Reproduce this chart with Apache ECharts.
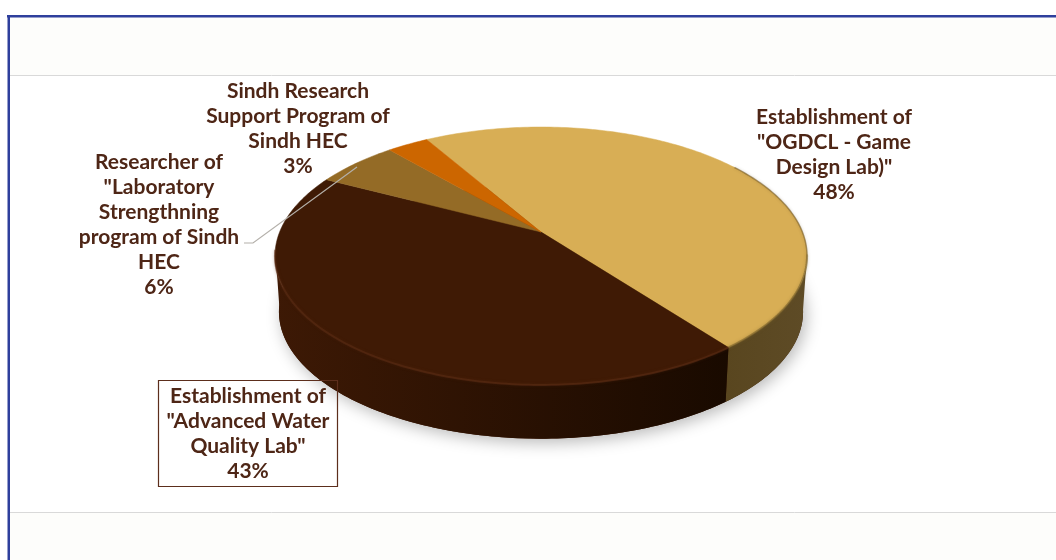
<!DOCTYPE html>
<html><head><meta charset="utf-8">
<style>html,body{margin:0;padding:0;background:#fff}#c{width:1056px;height:560px}</style>
<script src="https://cdn.jsdelivr.net/npm/echarts@6/dist/echarts.min.js"></script>
</head><body><div id="c"></div>
<script>
const categories = [
  'Establishment of\n"OGDCL - Game\nDesign Lab)"',
  'Establishment of\n"Advanced Water\nQuality Lab"',
  'Researcher of\n"Laboratory\nStrengthning\nprogram of Sindh\nHEC',
  'Sindh Research\nSupport Program of\nSindh HEC'
];
const values = [48, 43, 6, 3];
const topColors = ['#d8ae55', '#3f1a05', '#946b26', '#cc6600'];
const sideColors = [['#5e4b26', '#59461f'], ['#190a00', '#3d1905'], ['#5a4018', '#5a4018'], ['#7a3d00', '#7a3d00']];
const rimColors = ['rgba(120,96,44,0.6)', 'rgba(92,46,22,0.55)', 'rgba(0,0,0,0)', 'rgba(0,0,0,0)'];
const labelCentres = [[834, 154.5], [248, 434], [159, 224.5], [298, 129]];
const textColor = '#4e2616';
const fontFamily = 'Lato, "Open Sans", sans-serif';

const CX = 541, CY = 232, RX = 261.4, RY = 124.5, K = 0.186, START = -30.5;
const DEPTH = 56, BASE_SCALE = 0.985;

function proj(deg, bottom) {
  const t = deg * Math.PI / 180;
  const x = Math.sin(t), y = -Math.cos(t), f = 1 / (1 - K * y);
  const s = bottom ? BASE_SCALE : 1;
  return [CX + RX * x * f * s, CY + (bottom ? DEPTH : 0) + RY * y * f * s];
}
function arc(a, b, bottom) {
  const pts = [], n = Math.max(2, Math.ceil(Math.abs(b - a)));
  for (let i = 0; i <= n; i++) pts.push(proj(a + (b - a) * i / n, bottom));
  return pts;
}
const total = values.reduce((a, b) => a + b, 0);

function renderItem(params, api) {
  const i = params.dataIndex, val = api.value(0);
  let a = START;
  for (let j = 0; j < i; j++) a += values[j] / total * 360;
  const b = a + val / total * 360;
  const children = [];
  if (i === 0) {
    children.push({ type: 'polygon', z2: 0, shape: { points: arc(0, 360, true) },
      style: { fill: '#3d1905', shadowBlur: 16, shadowColor: 'rgba(0,0,0,0.28)', shadowOffsetX: 3, shadowOffsetY: 4 } });
  }
  // visible part of the wall: the front half of the rim
  const lo = Math.max(a, 100), hi = Math.min(b, 262);
  if (hi > lo) {
    const front = arc(lo, hi, false), back = arc(hi, lo, true);
    const c = sideColors[i];
    children.push({ type: 'polygon', z2: 1, shape: { points: front.concat(back) },
      style: { fill: new echarts.graphic.LinearGradient(1, 0, 0, 0, [{ offset: 0, color: c[0] }, { offset: 1, color: c[1] }]) } });
    children.push({ type: 'polyline', z2: 3, shape: { points: arc(lo, hi, false) },
      style: { fill: 'none', stroke: rimColors[i], lineWidth: 2, shadowBlur: 3, shadowColor: rimColors[i] } });
  }
  const pts = [[CX, CY]].concat(arc(a, b, false));
  children.push({ type: 'polygon', z2: 2, shape: { points: pts }, style: { fill: topColors[i], stroke: topColors[i], lineWidth: 0.5 } });
  if (i === 0) {
    children.push({ type: 'polyline', z2: 3, shape: { points: arc(55, 100, false) },
      style: { fill: 'none', stroke: 'rgba(96,74,32,0.45)', lineWidth: 1.5, shadowBlur: 3, shadowColor: 'rgba(96,74,32,0.5)' } });
  }
  const pos = labelCentres[i];
  children.push({ type: 'text', z2: 6, style: {
    x: pos[0], y: pos[1], text: categories[i] + '\n' + val + '%', fill: textColor,
    font: 'bold 21px ' + fontFamily, lineHeight: 25, align: 'center', verticalAlign: 'middle' } });
  if (i === 1) {
    children.push({ type: 'rect', z2: 5, shape: { x: 158.5, y: 380.5, width: 179, height: 106 },
      style: { fill: 'none', stroke: '#5c2e1c', lineWidth: 1.2 } });
  }
  if (i === 2) {
    children.push({ type: 'polyline', z2: 4, shape: { points: [[357, 167], [253, 243], [244, 243]] },
      style: { fill: 'none', stroke: '#b4b0aa', lineWidth: 1.2 } });
  }
  return { type: 'group', children };
}

const chart = echarts.init(document.getElementById('c'), null, { renderer: 'canvas' });
chart.setOption({
  animation: false,
  backgroundColor: '#ffffff',
  graphic: [
    { type: 'rect', z: -1, shape: { x: 9, y: 16, width: 1047, height: 59 }, style: { fill: '#fdfdfb' } },
    { type: 'rect', z: -1, shape: { x: 9, y: 513, width: 1047, height: 47 }, style: { fill: '#fdfdfb' } },
    { type: 'line', z: -1, shape: { x1: 10, y1: 75.5, x2: 1056, y2: 75.5 }, style: { stroke: '#d9d9d9', lineWidth: 1 } },
    { type: 'line', z: -1, shape: { x1: 10, y1: 512.5, x2: 1056, y2: 512.5 }, style: { stroke: '#d9d9d9', lineWidth: 1 } },
    { type: 'rect', z: 10, shape: { x: 7, y: 15, width: 1049, height: 2.5 }, style: { fill: '#2e3f9c' } },
    { type: 'rect', z: 10, shape: { x: 7.5, y: 15, width: 2.5, height: 545 }, style: { fill: '#2e3f9c' } }
  ],
  series: [{
    type: 'custom',
    coordinateSystem: 'none',
    silent: true,
    clip: false,
    renderItem,
    encode: { value: 0 },
    data: values.map(v => [v])
  }]
});
</script></body></html>
